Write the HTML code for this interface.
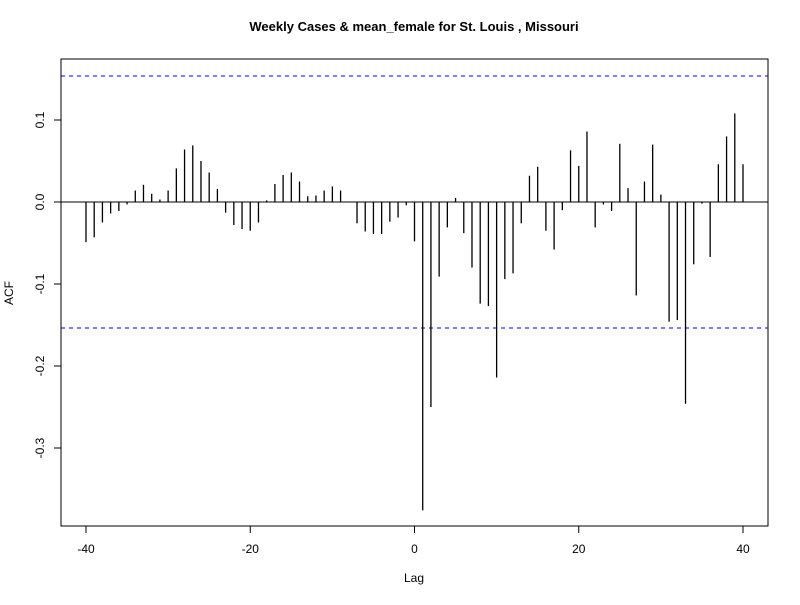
<!DOCTYPE html>
<html><head><meta charset="utf-8"><style>body{margin:0;background:#fff}svg{font-family:"Liberation Sans",Arial,sans-serif}</style></head>
<body>
<svg id="chart" width="800" height="600" viewBox="0 0 800 600" xmlns="http://www.w3.org/2000/svg">
<rect width="800" height="600" fill="#fff"/>
<text x="414" y="31" text-anchor="middle" font-size="13" font-weight="bold">Weekly Cases &amp; mean_female for St. Louis , Missouri</text>
<rect x="61" y="59" width="707" height="467" fill="none" stroke="#000" stroke-width="1"/>
<text x="414" y="582" text-anchor="middle" font-size="12">Lag</text>
<text transform="translate(13,293) rotate(-90)" text-anchor="middle" font-size="12">ACF</text>
<g id="marks"></g>
</svg>
<script>
const lags = [];
for (let k = -40; k <= 40; k++) lags.push(k);
const acfValues = [-0.049,-0.043,-0.025,-0.014,-0.011,-0.003,0.014,0.021,0.010,0.003,0.014,0.041,0.064,0.069,0.050,0.036,0.016,-0.013,-0.028,-0.033,-0.035,-0.025,0.002,0.022,0.033,0.036,0.025,0.007,0.008,0.014,0.019,0.014,0.000,-0.026,-0.036,-0.039,-0.039,-0.024,-0.019,-0.004,-0.048,
-0.376,-0.250,-0.091,-0.031,0.005,-0.038,-0.080,-0.124,-0.127,-0.214,-0.094,-0.087,-0.026,0.032,0.043,-0.035,-0.058,-0.010,0.063,0.044,0.086,-0.031,-0.003,-0.011,0.071,0.017,-0.114,0.025,0.070,0.009,-0.146,-0.144,-0.246,-0.076,-0.002,-0.067,0.046,0.080,0.108,0.046];
const ciBound = 0.1537;
const xTicks = [-40,-20,0,20,40];
const yTicks = [-0.3,-0.2,-0.1,0.0,0.1];
const yTickLabels = ["-0.3","-0.2","-0.1","0.0","0.1"];

const X = v => 414.5 + v * 8.2125;
const Y = v => 202 - v * 820;
const NS = "http://www.w3.org/2000/svg";
const g = document.getElementById('marks');
function mk(tag, attrs) { const e = document.createElementNS(NS, tag); for (const k in attrs) e.setAttribute(k, attrs[k]); g.appendChild(e); return e; }

const zl = mk('line', {x1:61, x2:768, y1:Y(0), y2:Y(0), stroke:'#000'});


[ciBound, -ciBound].forEach((c, i) => {
  const l = mk('line', {x1:61, x2:768, y1:Y(c), y2:Y(c), stroke:'#0000ff', 'stroke-dasharray':'4,4'});
  
  
});
lags.forEach((k, i) => {
  const b = mk('line', {x1:X(k), x2:X(k), y1:Y(0), y2:Y(acfValues[i]), stroke:'#000', 'stroke-width':1.3});
  
  
});
xTicks.forEach(t => {
  const l = mk('line', {x1:X(t), x2:X(t), y1:526, y2:533, stroke:'#000'});
  
  
  const tx = mk('text', {x:X(t), y:553, 'text-anchor':'middle', 'font-size':12});
  
  
  tx.textContent = t;
});
yTicks.forEach((t, i) => {
  const l = mk('line', {x1:54, x2:61, y1:Y(t), y2:Y(t), stroke:'#000'});
  
  
  const tx = mk('text', {transform:`translate(44,${Y(t)}) rotate(-90)`, 'text-anchor':'middle', 'font-size':12});
  
  
  tx.textContent = yTickLabels[i];
});
</script>
</body></html>
